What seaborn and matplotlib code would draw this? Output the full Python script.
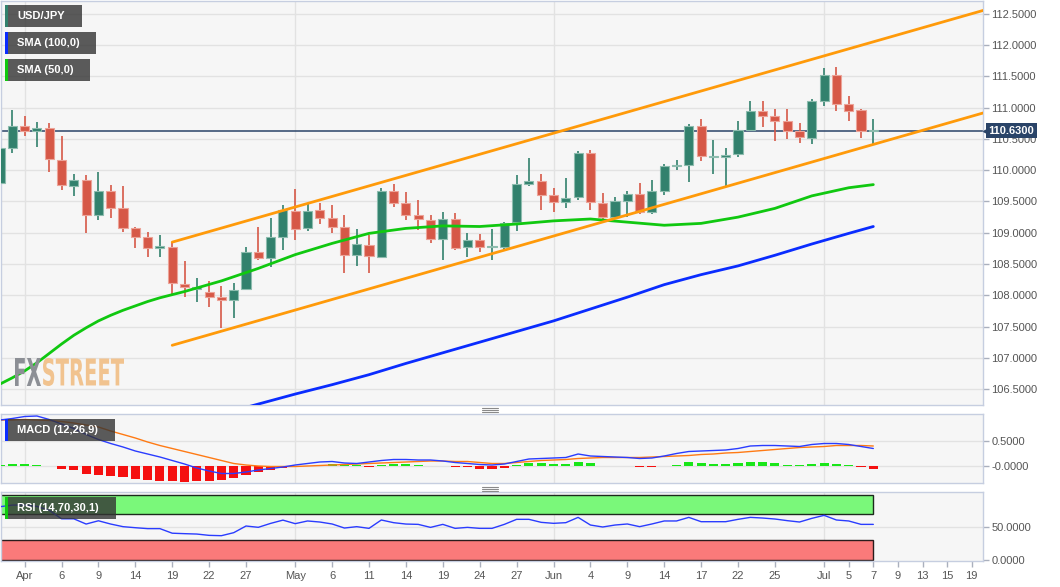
import numpy as np
import pandas as pd
import matplotlib
matplotlib.use("Agg")
import matplotlib.pyplot as plt
import seaborn as sns
from matplotlib.patches import Rectangle, PathPatch
from matplotlib.lines import Line2D
from matplotlib.textpath import TextPath
from matplotlib.font_manager import FontProperties
from matplotlib.transforms import Affine2D, blended_transform_factory

sns.set_theme(style="whitegrid")
plt.rcParams['font.family'] = ['Liberation Sans', 'DejaVu Sans']

# ---- data (USD/JPY daily) ----
start_date = '2021-03-30'
opens = [109.80, 110.36, 110.71, 110.62, 110.68, 110.17, 109.75, 109.85, 109.28, 109.66,
         109.39, 109.07, 108.94, 108.76, 108.78, 108.18, 108.10, 108.06, 107.97, 107.92,
         108.10, 108.70, 108.60, 108.93, 109.35, 109.07, 109.37, 109.24, 109.09, 108.65,
         108.81, 108.62, 109.66, 109.48, 109.29, 109.21, 108.90, 109.22, 108.77, 108.88,
         108.77, 108.77, 109.17, 109.78, 109.82, 109.60, 109.49, 109.57, 110.28, 109.48,
         109.25, 109.50, 109.62, 109.33, 109.66, 110.06, 110.09, 110.71, 110.21, 110.21,
         110.26, 110.64, 110.95, 110.87, 110.78, 110.62, 110.51, 111.11, 111.53, 111.06,
         110.96, 110.62]
highs = [110.42, 110.97, 110.86, 110.77, 110.76, 110.55, 109.94, 109.92, 109.97, 109.76,
         109.75, 109.10, 109.02, 108.97, 108.85, 108.55, 108.28, 108.23, 108.15, 108.20,
         108.78, 109.09, 109.23, 109.44, 109.70, 109.47, 109.47, 109.44, 109.29, 109.06,
         108.97, 109.71, 109.78, 109.65, 109.52, 109.29, 109.34, 109.31, 109.00, 108.98,
         109.06, 109.17, 109.93, 110.20, 109.94, 109.72, 109.88, 110.31, 110.33, 109.64,
         109.57, 109.66, 109.80, 109.85, 110.10, 110.17, 110.74, 110.82, 110.49, 110.36,
         110.78, 111.11, 111.11, 110.98, 110.98, 110.76, 111.14, 111.64, 111.65, 111.19,
         110.98, 110.82]
lows = [109.72, 110.28, 110.55, 110.37, 109.97, 109.68, 109.58, 109.00, 109.21, 109.23,
        109.02, 108.76, 108.61, 108.62, 108.02, 107.98, 107.89, 107.82, 107.48, 107.64,
        108.08, 108.57, 108.45, 108.72, 108.89, 109.03, 109.14, 108.99, 108.35, 108.47,
        108.35, 108.60, 109.42, 109.20, 109.05, 108.83, 108.57, 108.73, 108.61, 108.69,
        108.56, 108.72, 109.03, 109.74, 109.36, 109.33, 109.40, 109.52, 109.37, 109.22,
        109.22, 109.25, 109.30, 109.30, 109.61, 110.00, 109.81, 110.15, 109.94, 109.73,
        110.21, 110.62, 110.69, 110.47, 110.50, 110.43, 110.42, 111.03, 110.95, 110.79,
        110.52, 110.42]
closes = [110.36, 110.71, 110.62, 110.68, 110.18, 109.76, 109.85, 109.28, 109.66, 109.39,
          109.07, 108.94, 108.76, 108.79, 108.19, 108.13, 108.11, 107.97, 107.92, 108.09,
          108.70, 108.60, 108.93, 109.36, 109.06, 109.35, 109.24, 109.09, 108.65, 108.82,
          108.63, 109.66, 109.48, 109.29, 109.22, 108.90, 109.22, 108.76, 108.88, 108.77,
          108.78, 109.15, 109.78, 109.82, 109.61, 109.49, 109.55, 110.28, 109.49, 109.25,
          109.50, 109.62, 109.33, 109.66, 110.06, 110.07, 110.71, 110.22, 110.21, 110.25,
          110.64, 110.95, 110.87, 110.78, 110.63, 110.53, 111.11, 111.53, 111.06, 110.95,
          110.62, 110.63]
last_price = 110.63

sma50_x = [0, 1, 2, 3, 4, 5, 6, 7, 8, 9, 10, 11, 12, 13, 15, 18, 21, 24, 27, 30, 33, 36,
           39, 42, 45, 48, 51, 54, 57, 60, 63, 66, 69, 71]
sma50 = [106.58, 106.68, 106.79, 106.92, 107.07, 107.22, 107.36, 107.48, 107.59, 107.68,
         107.76, 107.83, 107.90, 107.96, 108.06, 108.23, 108.43, 108.65, 108.83, 108.99,
         109.07, 109.11, 109.10, 109.14, 109.19, 109.22, 109.17, 109.12, 109.15, 109.25,
         109.39, 109.59, 109.72, 109.77]
sma100_x = [18, 21, 24, 27, 30, 33, 36, 39, 42, 45, 48, 51, 54, 57, 60, 63, 66, 69, 71]
sma100 = [106.10, 106.26, 106.42, 106.57, 106.73, 106.91, 107.08, 107.25, 107.42, 107.59,
          107.78, 107.97, 108.17, 108.33, 108.47, 108.64, 108.82, 108.99, 109.10]

channel_x = [14, 80]
channel_low = [107.20, 110.92]
channel_high = [108.85, 112.56]

macd = [0.92, 0.95, 0.99, 1.00, 0.93, 0.84, 0.75, 0.63, 0.53, 0.45,
        0.38, 0.30, 0.24, 0.18, 0.11, 0.04, -0.04, -0.10, -0.15, -0.15,
        -0.12, -0.08, -0.05, -0.02, 0.02, 0.05, 0.08, 0.09, 0.06, 0.05,
        0.08, 0.11, 0.13, 0.13, 0.12, 0.12, 0.10, 0.07, 0.05, 0.03,
        0.02, 0.04, 0.09, 0.14, 0.15, 0.16, 0.17, 0.24, 0.20, 0.19,
        0.18, 0.17, 0.15, 0.16, 0.20, 0.25, 0.29, 0.30, 0.31, 0.32,
        0.35, 0.40, 0.41, 0.41, 0.40, 0.39, 0.43, 0.45, 0.45, 0.43,
        0.39, 0.35]
signal = [0.92, 0.92, 0.93, 0.92, 0.91, 0.89, 0.86, 0.82, 0.78, 0.70,
          0.63, 0.56, 0.48, 0.41, 0.35, 0.29, 0.23, 0.17, 0.11, 0.05,
          0.02, 0.00, -0.01, -0.01, -0.01, 0.00, 0.01, 0.02, 0.03, 0.04,
          0.05, 0.06, 0.07, 0.08, 0.09, 0.10, 0.10, 0.09, 0.09, 0.07,
          0.05, 0.05, 0.07, 0.09, 0.11, 0.12, 0.13, 0.15, 0.16, 0.17,
          0.17, 0.17, 0.17, 0.18, 0.19, 0.20, 0.21, 0.23, 0.24, 0.26,
          0.27, 0.29, 0.31, 0.33, 0.35, 0.37, 0.38, 0.39, 0.41, 0.41,
          0.41, 0.40]
hist = [0.03, 0.04, 0.04, 0.03, 0.01, -0.05, -0.08, -0.15, -0.17, -0.19,
        -0.22, -0.25, -0.27, -0.29, -0.30, -0.31, -0.30, -0.29, -0.27, -0.23,
        -0.17, -0.12, -0.08, -0.03, -0.01, 0.01, 0.03, 0.04, 0.03, 0.02,
        -0.02, 0.02, 0.04, 0.04, 0.03, 0.01, 0.01, -0.02, -0.02, -0.05,
        -0.05, -0.03, 0.02, 0.07, 0.06, 0.05, 0.05, 0.09, 0.06, 0.01,
        0.01, 0.005, -0.01, -0.01, 0.01, 0.03, 0.08, 0.07, 0.05, 0.05,
        0.07, 0.09, 0.09, 0.07, 0.03, 0.02, 0.04, 0.07, 0.05, 0.02,
        -0.01, -0.05]
rsi = [81.5, 84.0, 84.0, 82.0, 76.0, 63.0, 63.0, 55.0, 60.0, 55.0,
       51.0, 49.4, 48.0, 48.0, 41.0, 40.3, 39.7, 37.7, 37.2, 41.8,
       52.0, 50.0, 56.0, 61.0, 55.6, 59.7, 58.1, 55.1, 48.9, 51.0,
       48.4, 61.2, 57.1, 55.0, 54.5, 49.9, 54.5, 48.4, 49.9, 48.4,
       48.4, 54.5, 62.2, 62.2, 57.6, 56.1, 57.1, 65.2, 53.5, 50.5,
       53.5, 55.1, 51.0, 55.1, 59.7, 59.7, 65.2, 58.6, 58.6, 58.6,
       62.2, 65.2, 64.2, 62.7, 60.2, 58.1, 63.7, 68.3, 61.2, 59.7,
       54.5, 54.5]

tick_dates = ['2021-04-01', '2021-04-06', '2021-04-09', '2021-04-14', '2021-04-19',
              '2021-04-22', '2021-04-27', '2021-05-03', '2021-05-06', '2021-05-11',
              '2021-05-14', '2021-05-19', '2021-05-24', '2021-05-27', '2021-06-01',
              '2021-06-04', '2021-06-09', '2021-06-14', '2021-06-17', '2021-06-22',
              '2021-06-25', '2021-07-01', '2021-07-05', '2021-07-07', '2021-07-09',
              '2021-07-13', '2021-07-15', '2021-07-19']
tick_labels = ['Apr', '6', '9', '14', '19', '22', '27', 'May', '6', '11', '14', '19', '24',
               '27', 'Jun', '4', '9', '14', '17', '22', '25', 'Jul', '5', '7', '9', '13',
               '15', '19']
month_starts = ['2021-04-01', '2021-05-03', '2021-06-01', '2021-07-01']
price_ticks = [106.5, 107.0, 107.5, 108.0, 108.5, 109.0, 109.5, 110.0, 110.5, 111.0,
               111.5, 112.0, 112.5]

# ---- prep ----
W, H = 1060, 587
days = pd.bdate_range(start_date, periods=90)
pos = {d.strftime('%Y-%m-%d'): i for i, d in enumerate(days)}
idx = np.arange(len(opens))
o, hi, lo, c = map(np.array, (opens, highs, lows, closes))
up = c >= o

GREEN = '#32816d'
RED = '#d65847'
BG = '#f6f6f6'
GRID = '#e2e2e2'
SPINE = '#c6cee0'
TXT = '#555555'
xlim = (0.08, 0.08 + 982 / 12.3)


def frac(x, y):
    return x / W, 1 - y / H


fig = plt.figure(figsize=(W / 100, H / 100), dpi=100)
fig.patch.set_facecolor('white')
ax = fig.add_axes([1 / W, 1 - 405 / H, 982 / W, 404 / H])
ax_m = fig.add_axes([1 / W, 1 - 483 / H, 982 / W, 69 / H])
ax_r = fig.add_axes([1 / W, 1 - 561 / H, 982 / W, 69 / H])

for a in (ax, ax_m, ax_r):
    a.set_facecolor(BG)
    a.grid(False)
    a.set_xlim(*xlim)
    for s in a.spines.values():
        s.set_color(SPINE)
        s.set_linewidth(1)
    for d in month_starts:
        a.axvline(pos[d], color=GRID, lw=1, zorder=0)
    a.yaxis.tick_right()
    a.tick_params(axis='y', which='both', right=True, left=False, length=4, width=1,
                  color='#aab0bd', labelsize=8, labelcolor=TXT, pad=2)

# ---- main price panel ----
for p in price_ticks:
    ax.axhline(p, color=GRID, lw=1, zorder=0)
ax.set_yticks(price_ticks, labels=[f'{p:.4f}' for p in price_ticks])
ax.set_xticks([])

ax.axhline(last_price, color='#2a4468', lw=1.1, zorder=2)

body_lo = np.minimum(o, c)
body_h = np.maximum(np.abs(c - o), 0.025)
cols = np.where(up, GREEN, RED)
edges = np.where(up, '#8dbcae', '#eca398')
ax.vlines(idx, lo, hi, colors=cols, lw=1.2, zorder=3)
ax.bar(idx, body_h, bottom=body_lo, width=0.74, color=cols, edgecolor=edges,
       linewidth=0.8, zorder=4)

sns.lineplot(x=sma50_x, y=sma50, ax=ax, color='#10c810', lw=2, zorder=5)
sns.lineplot(x=sma100_x, y=sma100, ax=ax, color='#0a2cff', lw=2, zorder=5)
sns.lineplot(x=channel_x, y=channel_low, ax=ax, color='#ff9a0a', lw=2, zorder=6)
sns.lineplot(x=channel_x, y=channel_high, ax=ax, color='#ff9a0a', lw=2, zorder=6)
ax.set_xlim(*xlim)
ax.set_ylim(106.245, 112.707)
ax.set_xlabel('')
ax.set_ylabel('')

# last-price tag
tr = blended_transform_factory(ax.transAxes, ax.transData)
ax.text(1.0055, last_price, f'{last_price:.4f}', transform=tr, ha='left', va='center',
        color='white', fontsize=8, fontweight='bold', zorder=10, clip_on=False,
        bbox=dict(boxstyle='square,pad=0.22', fc='#2a4468', ec='none'))
ax.plot([1.0035], [last_price], marker='<', ms=5, color='#2a4468', transform=tr,
        clip_on=False, zorder=10)

# ---- MACD panel ----
for v in (0.0, 0.5):
    ax_m.axhline(v, color=GRID, lw=1, zorder=0)
ax_m.set_yticks([0.0, 0.5], labels=['-0.0000', '0.5000'])
ax_m.set_xticks([])
hist_arr = np.array(hist)
ax_m.bar(idx, hist_arr, width=0.74, color=np.where(hist_arr >= 0, '#19e619', '#f51010'),
         linewidth=0, zorder=3)
sns.lineplot(x=idx, y=signal, ax=ax_m, color='#ff7a14', lw=1, zorder=4)
sns.lineplot(x=idx, y=macd, ax=ax_m, color='#2a3cff', lw=1, zorder=5)
ax_m.set_xlim(*xlim)
ax_m.set_ylim(-0.34, 1.04)
ax_m.set_xlabel('')
ax_m.set_ylabel('')

# ---- RSI panel ----
ax_r.axhline(50, color=GRID, lw=1, zorder=0)
ax_r.set_yticks([0, 50], labels=['0.0000', '50.0000'])
ax_r.add_patch(Rectangle((-2, 70), idx[-1] + 2, 30, fc='#7af87a', ec='#1c2a1c', lw=1, zorder=2))
ax_r.add_patch(Rectangle((-2, 0), idx[-1] + 2, 30, fc='#fa7a7a', ec='#2a1c1c', lw=1, zorder=2))
sns.lineplot(x=idx, y=rsi, ax=ax_r, color='#2a3cff', lw=1, zorder=4)
ax_r.set_xlim(*xlim)
ax_r.set_ylim(-1.5, 104)
ax_r.set_xlabel('')
ax_r.set_ylabel('')
ax_r.set_xticks([pos[d] for d in tick_dates], labels=tick_labels)
ax_r.tick_params(axis='x', bottom=True, length=4, width=1, color='#aab0bd',
                 labelsize=8, labelcolor=TXT, pad=3)

# ---- label boxes ----
def label_box(x0, y0, x1, y1, strip, text):
    fx, fy = frac(x0, y1)
    fig.add_artist(Rectangle((fx, fy), (x1 - x0) / W, (y1 - y0) / H, transform=fig.transFigure,
                             fc='#333333', alpha=0.8, ec='none', zorder=20))
    fig.add_artist(Rectangle((fx, fy), 2.5 / W, (y1 - y0) / H, transform=fig.transFigure,
                             fc=strip, ec='none', zorder=21))
    tx, ty = frac(x0 + 12, (y0 + y1) / 2)
    fig.text(tx, ty, text, color='white', fontsize=8, fontweight='bold', va='center',
             ha='left', zorder=22)


label_box(5, 5, 82, 27, GREEN, 'USD/JPY')
label_box(5, 32, 96, 54, '#0a2cff', 'SMA (100,0)')
label_box(5, 59, 90, 81, '#10c810', 'SMA (50,0)')
label_box(5, 419, 115, 441, '#0a2cff', 'MACD (12,26,9)')
label_box(5, 497, 116, 519, '#10c810', 'RSI (14,70,30,1)')

# ---- watermark ----
wm_font = FontProperties(family='Liberation Sans Narrow', weight='bold')


def stretched_text(s, box, color):
    x0, y0, x1, y1 = box
    tp = TextPath((0, 0), s, size=50, prop=wm_font)
    ext = tp.get_extents()
    t = (Affine2D().translate(-ext.x0, -ext.y0)
         .scale((x1 - x0) / ext.width, (y1 - y0) / ext.height)
         .translate(x0, H - y1).scale(1 / W, 1 / H))
    fig.add_artist(PathPatch(t.transform_path(tp), fc=color, ec='none',
                             transform=fig.transFigure, zorder=15))


stretched_text('FX', (15, 358, 41, 386), '#8c8f95')
stretched_text('STREET', (43, 358, 124, 386), '#f1c38f')

# ---- panel drag handles ----
for yc in (409.5, 488.5):
    for dy in (-2, 0, 2):
        fx0, fy = frac(482, yc + dy)
        fx1, _ = frac(498, yc + dy)
        fig.add_artist(Line2D([fx0, fx1], [fy, fy], transform=fig.transFigure,
                              color='#8a8a8a', lw=0.8))

fig.savefig('out.png', dpi=100, facecolor='white')
